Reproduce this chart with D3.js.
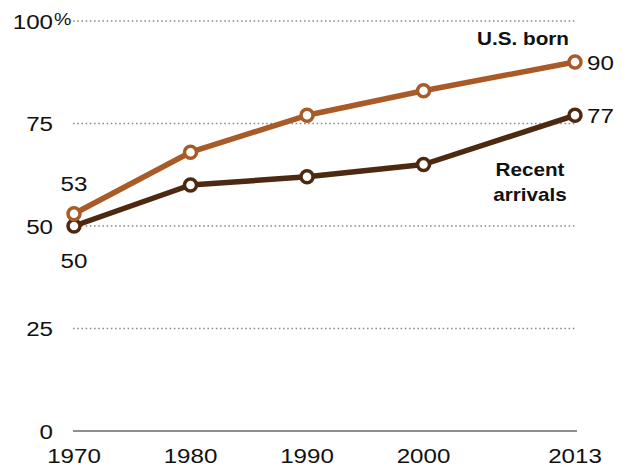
<!DOCTYPE html>
<html>
<head>
<meta charset="utf-8">
<script src="https://cdn.jsdelivr.net/npm/d3@7"></script>
<style>
  html, body { margin: 0; padding: 0; background: #fff; }
  svg text { font-family: "Liberation Sans", Arial, sans-serif; }
</style>
</head>
<body>
<svg id="chart" width="625" height="468"></svg>
<script>
// Share by year (percent)
const years = [1970, 1980, 1990, 2000, 2013];
const usBorn = [53, 68, 77, 83, 90];
const recentArrivals = [50, 60, 62, 65, 77];
const yTicks = [0, 25, 50, 75, 100];
const yTickLabels = ["0", "25", "50", "75", "100"];
const seriesNames = ["U.S. born", "Recent arrivals"];

const colors = { usBorn: "#a85b26", recent: "#4d2912" };
const sx = 1.15; // horizontal text widening

const svg = d3.select("#chart");
const x = d3.scaleLinear().domain([1970, 2013]).range([74, 575]);
const y = d3.scaleLinear().domain([0, 100]).range([431, 21]);

function txt(g, xp, yp, s, opts = {}) {
  return g.append("text")
    .attr("transform", `translate(${xp},${yp}) scale(${sx},1)`)
    .attr("text-anchor", opts.anchor || "start")
    .attr("font-size", opts.size || 21)
    .attr("font-weight", opts.weight || "normal")
    .attr("fill", opts.fill || "#111")
    .text(s);
}

// Gridlines
const grid = svg.append("g");
grid.selectAll("line.grid")
  .data(yTicks.filter(d => d > 0))
  .join("line")
  .attr("class", "grid")
  .attr("x1", 73).attr("x2", 577)
  .attr("y1", d => y(d)).attr("y2", d => y(d))
  .attr("stroke", "#8c8c8c")
  .attr("stroke-width", 1.6)
  .attr("stroke-dasharray", "1.6,2.6");

// Baseline
svg.append("line")
  .attr("x1", 73).attr("x2", 577)
  .attr("y1", y(0)).attr("y2", y(0))
  .attr("stroke", "#8f8f8f").attr("stroke-width", 2);

// Y tick labels
const yl = svg.append("g");
yTicks.forEach((t, i) => {
  txt(yl, 53, y(t) + 7.5, yTickLabels[i], { anchor: "end" });
});
txt(yl, 54, y(100) + 4, "%", { size: 17 });

// X tick labels
const xl = svg.append("g");
years.forEach(yr => {
  txt(xl, x(yr), 463, String(yr), { anchor: "middle" });
});

// Lines and markers
const line = d3.line().x(d => x(d[0])).y(d => y(d[1]));
function drawSeries(vals, color) {
  const pts = years.map((yr, i) => [yr, vals[i]]);
  svg.append("path")
    .datum(pts)
    .attr("d", line)
    .attr("fill", "none")
    .attr("stroke", color)
    .attr("stroke-width", 5.5)
    .attr("stroke-linejoin", "round");
  svg.append("g").selectAll("circle")
    .data(pts)
    .join("circle")
    .attr("cx", d => x(d[0])).attr("cy", d => y(d[1]))
    .attr("r", 6)
    .attr("fill", "#fff")
    .attr("stroke", color)
    .attr("stroke-width", 3.5);
}
drawSeries(recentArrivals, colors.recent);
drawSeries(usBorn, colors.usBorn);

// Value labels
const vl = svg.append("g");
txt(vl, x(1970), y(usBorn[0]) - 23, String(usBorn[0]), { anchor: "middle" });
txt(vl, x(1970), y(recentArrivals[0]) + 42, String(recentArrivals[0]), { anchor: "middle" });
txt(vl, x(2013) + 12, y(usBorn[4]) + 7.5, String(usBorn[4]));
txt(vl, x(2013) + 12, y(recentArrivals[4]) + 7.5, String(recentArrivals[4]));

// Series labels
const sl = svg.append("g");
txt(sl, 569, 45, seriesNames[0], { anchor: "end", size: 18, weight: "bold" });
txt(sl, 530, 176, "Recent", { anchor: "middle", size: 18, weight: "bold" });
txt(sl, 530, 201, "arrivals", { anchor: "middle", size: 18, weight: "bold" });
</script>
</body>
</html>
